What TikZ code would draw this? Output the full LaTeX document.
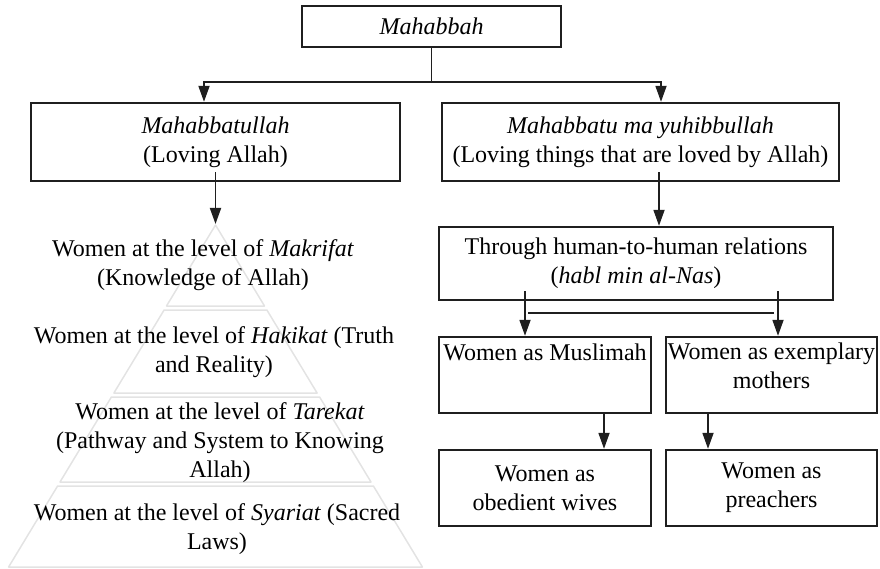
\documentclass[tikz,border=0pt]{standalone}
\usepackage{fontspec}
\setmainfont{Liberation Serif}
\usetikzlibrary{arrows.meta}
\tikzset{
  txt/.style={font=\fontsize{24}{29}\selectfont, align=center, inner sep=0pt},
  box/.style={txt, draw=black!88, line width=2.4pt, minimum height=76pt},
  arr/.style={line width=1.8pt, draw=black!88, -{Triangle[length=16pt,width=11pt]}},
  lin/.style={line width=1.8pt, draw=black!88},
  pyr/.style={draw=black!11, line width=1.5pt, line join=round}
}

\begin{document}
\begin{tikzpicture}[x=1pt,y=-1pt]
	\useasboundingbox (0,0) rectangle (880,569);
	
	\draw[pyr] (215.5,225) -- (264.5,306) -- (166.5,306) -- cycle;
	\draw[pyr] (164.1,310) -- (266.9,310) -- (317.1,393) -- (113.9,393) -- cycle;
	\draw[pyr] (111.4,397) -- (319.6,397) -- (371,482) -- (60,482) -- cycle;
	\draw[pyr] (57.6,486) -- (373.4,486) -- (422.4,567) -- (8.6,567) -- cycle;
	\coordinate (apex) at (215.5,224);
	
	\node[txt] (mak) at (203,265.5) {Women at the level of \textit{Makrifat}\\(Knowledge of Allah)};
	\node[txt] (hak) at (214,352.5) {Women at the level of \textit{Hakikat} (Truth\\and Reality)};
	\node[txt] (tar) at (220,443) {Women at the level of \textit{Tarekat}\\(Pathway and System to Knowing\\Allah)};
	\node[txt] (sya) at (217,529.5) {Women at the level of \textit{Syariat} (Sacred\\Laws)};
	
	\node[box, minimum width=259pt, minimum height=41pt] (mah) at (431.5,26.5) {\textit{Mahabbah}};
	\node[box, minimum width=369pt, minimum height=78pt] (lov) at (215.5,142) {\textit{Mahabbatullah}\\(Loving Allah)};
	\node[box, minimum width=397pt, minimum height=78pt] (thg) at (640.5,142) {\textit{Mahabbatu ma yuhibbullah}\\(Loving things that are loved by Allah)};
	\node[box, minimum width=394pt, minimum height=73pt] (thr) at (636,263.5) {Through human-to-human relations\\(\textit{habl min al-Nas})};
	\node[box, minimum width=212pt] (mus) at (545,375) {Women as Muslimah\\[16pt]~};
	\node[box, minimum width=211pt] (mot) at (771.5,375) {Women as exemplary\\mothers\\[-10pt]~};
	\node[box, minimum width=212pt] (wiv) at (545,488) {Women as\\obedient wives};
	\node[box, minimum width=211pt] (pre) at (771.5,488) {Women as\\preachers};
	
	\coordinate (split) at (431.5,82);
	\draw[lin] (mah.south) -- (split);
	\draw[arr] (split) -| ([xshift=-11.5pt]lov.north);
	\draw[arr] (split) -| ([xshift=20.5pt]thg.north);
	
	\draw[arr] ([yshift=10pt]lov.south) -- (apex);
	\draw[arr] ([xshift=18.5pt,yshift=10pt]thg.south) -- ([xshift=18.5pt]thg.south |- thr.north);
	
	\draw[arr] ([xshift=-20pt,yshift=10pt]mus.north |- thr.south) -- ([xshift=-20pt]mus.north);
	\draw[arr] ([xshift=6.5pt,yshift=10pt]mot.north |- thr.south) -- ([xshift=6.5pt]mot.north);
	\draw[lin] ([xshift=-17pt,yshift=-12pt]mus.north |- thr.south) -- ([xshift=2.5pt,yshift=-12pt]mot.north |- thr.south);
	
	\draw[arr] ([xshift=59pt]mus.south) -- ([xshift=59pt]wiv.north);
	\draw[arr] ([xshift=-63.5pt]mot.south) -- ([xshift=-63.5pt]pre.north);
\end{tikzpicture}
\end{document}
